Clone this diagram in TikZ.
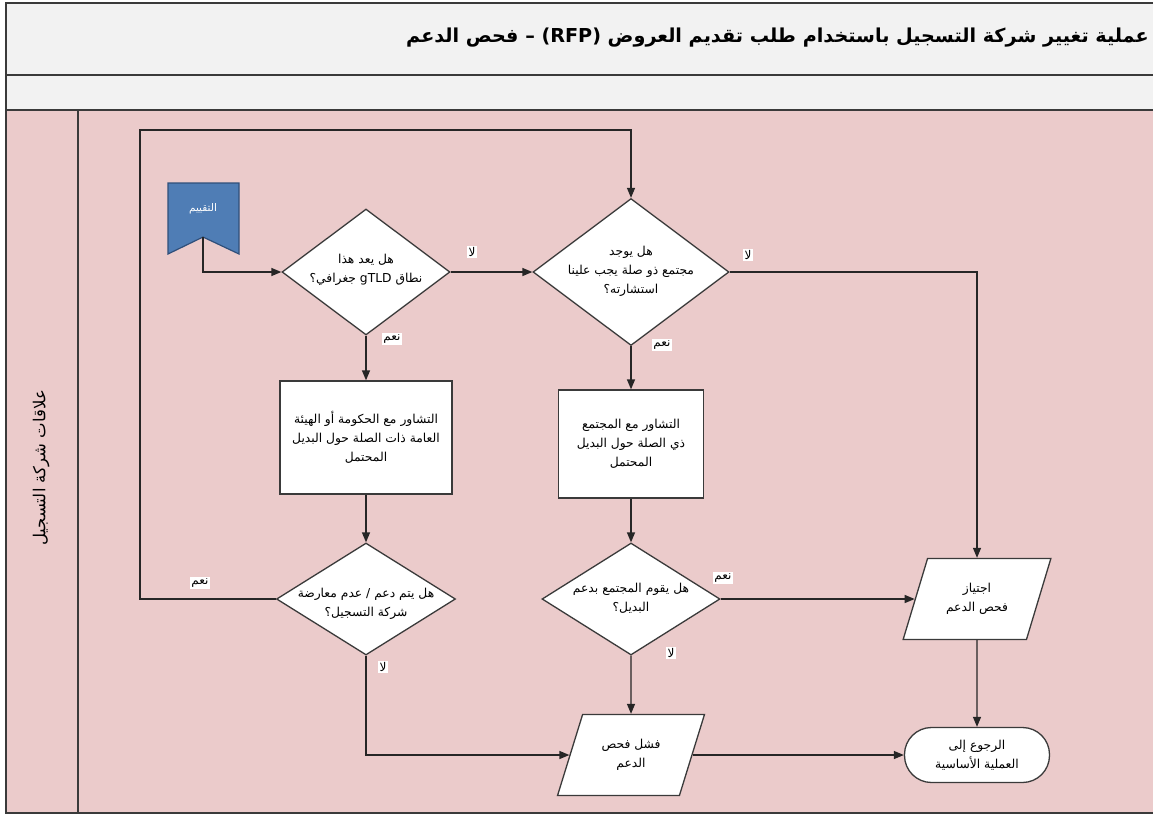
\documentclass[tikz,border=0pt]{standalone}
\usepackage{fontspec}
\setmainfont{DejaVu Sans}
\newfontfamily\arabicfont[Script=Arabic]{DejaVu Sans}
\usetikzlibrary{shapes.geometric,arrows.meta}
\TeXXeTstate=1
\newcommand{\rtline}[1]{\beginR #1\endR}
\definecolor{bandc}{HTML}{F2F2F2}
\definecolor{lanec}{HTML}{EBCBCB}
\definecolor{flagc}{HTML}{4F7DB5}
\definecolor{flagedge}{HTML}{2F4F7A}
\definecolor{framec}{HTML}{3A3A3A}
\definecolor{linec}{HTML}{262626}
\begin{document}
\begin{tikzpicture}[x=1pt,y=-1pt,
  framestyle/.style={draw=framec,line width=1.8pt},
  bodyfont/.style={font=\arabicfont\fontsize{12.3}{19}\selectfont},
  shapeedge/.style={draw=framec,line width=1.3pt,fill=white,inner sep=0pt,align=center,bodyfont},
  dia/.style={shapeedge,diamond},
  diatext/.style={inner sep=0pt,align=center,bodyfont},
  proc/.style={shapeedge,rectangle},
  io/.style={shapeedge,trapezium,trapezium left angle=64,trapezium right angle=116,
    trapezium stretches=true,minimum width=148pt,minimum height=81pt},
  term/.style={shapeedge,rectangle,rounded corners=27pt,minimum width=145pt,minimum height=55pt},
  arr/.style={draw=linec,line width=1.3pt,-{Triangle[length=10pt,width=8pt]}},
  lbl/.style={fill=white,inner sep=1.5pt,font=\arabicfont\fontsize{12}{13}\selectfont}
]
\useasboundingbox (0,0) rectangle (1153,815);
\begin{scope}
\clip (0,0) rectangle (1153,815);
\fill[bandc] (6,3) rectangle (1170,110);
\fill[lanec] (6,110) rectangle (1170,813);
\draw[framestyle] (1170,3) -- (6,3) -- (6,813) -- (1170,813);
\draw[framestyle] (6,75) -- (1170,75);
\draw[framestyle] (6,110) -- (1170,110);
\draw[framestyle] (78,110) -- (78,813);
\end{scope}

\node[anchor=east,inner sep=0pt,font=\arabicfont\bfseries\fontsize{19.2}{22}\selectfont] (title) at (1149,38)
  {\rtline{عملية تغيير شركة التسجيل باستخدام طلب تقديم العروض (RFP) – فحص الدعم}};
\node[rotate=90,inner sep=0pt,font=\arabicfont\fontsize{16.5}{18}\selectfont] (lanelabel) at (41,468)
  {\rtline{علاقات شركة التسجيل}};

% start flag
\draw[fill=flagc,draw=flagedge,line width=1.2pt] (168,183) -- (239,183) -- (239,254) -- (203,237) -- (168,254) -- cycle;
\node[text=white,inner sep=0pt,font=\arabicfont\fontsize{10.5}{12}\selectfont] (start) at (203,209) {\rtline{التقييم}};
\coordinate (startpt) at (203,237);

\node[dia,minimum width=168pt,minimum height=126pt] (d1) at (366,272) {};
\node[diatext] (d1t) at (366,270) {\rtline{هل يعد هذا}\\\rtline{نطاق gTLD جغرافي؟}};
\node[dia,minimum width=196pt,minimum height=147pt] (d2) at (631,272) {};
\node[diatext] (d2t) at (631,271) {\rtline{هل يوجد}\\\rtline{مجتمع ذو صلة يجب علينا}\\\rtline{استشارته؟}};
\node[proc,minimum width=172pt,minimum height=113pt] (b1) at (366,437.5)
  {\rtline{التشاور مع الحكومة أو الهيئة}\\\rtline{العامة ذات الصلة حول البديل}\\\rtline{المحتمل}};
\node[proc,minimum width=145pt,minimum height=108pt] (b2) at (631,444)
  {\rtline{التشاور مع المجتمع}\\\rtline{ذي الصلة حول البديل}\\\rtline{المحتمل}};
\node[dia,minimum width=179pt,minimum height=112pt] (d3) at (366,599) {};
\node[diatext] (d3t) at (366,604) {\rtline{هل يتم دعم / عدم معارضة}\\\rtline{شركة التسجيل؟}};
\node[dia,minimum width=178pt,minimum height=112pt] (d4) at (631,599) {};
\node[diatext] (d4t) at (631,598) {\rtline{هل يقوم المجتمع بدعم}\\\rtline{البديل؟}};
\node[io] (pass) at (977,599) {\rtline{اجتياز}\\\rtline{فحص الدعم}};
\node[io] (fail) at (631,755) {\rtline{فشل فحص}\\\rtline{الدعم}};
\node[term] (ret) at (977,755) {\rtline{الرجوع إلى}\\\rtline{العملية الأساسية}};

\coordinate (looptl) at (140,130);

\draw[arr] (startpt) |- (d1.west);
\draw[arr] (d1.east) -- (d2.west);
\draw[arr] (d1.south) -- (b1.north);
\draw[arr] (b1.south) -- (d3.north);
\draw[arr] (d2.south) -- (b2.north);
\draw[arr] (b2.south) -- (d4.north);
\draw[arr] (d3.west) -| (looptl) -| (d2.north);
\draw[arr] (d2.east) -| (pass.north);
\draw[arr] (d4.east) -- (pass.left side);
\draw[arr] (d4.south) -- (fail.north);
\draw[arr] (d3.south) |- (fail.left side);
\draw[arr] (fail.right side) -- (ret.west);
\draw[arr] (pass.south) -- (ret.north);

\node[lbl] (l1) at (472,252) {\rtline{لا}};
\node[lbl] (l2) at (392,339) {\rtline{نعم}};
\node[lbl] (l3) at (748,255) {\rtline{لا}};
\node[lbl] (l4) at (662,345) {\rtline{نعم}};
\node[lbl] (l5) at (200,583) {\rtline{نعم}};
\node[lbl] (l6) at (383,667) {\rtline{لا}};
\node[lbl] (l7) at (671,653) {\rtline{لا}};
\node[lbl] (l8) at (723,578) {\rtline{نعم}};
\end{tikzpicture}
\end{document}
